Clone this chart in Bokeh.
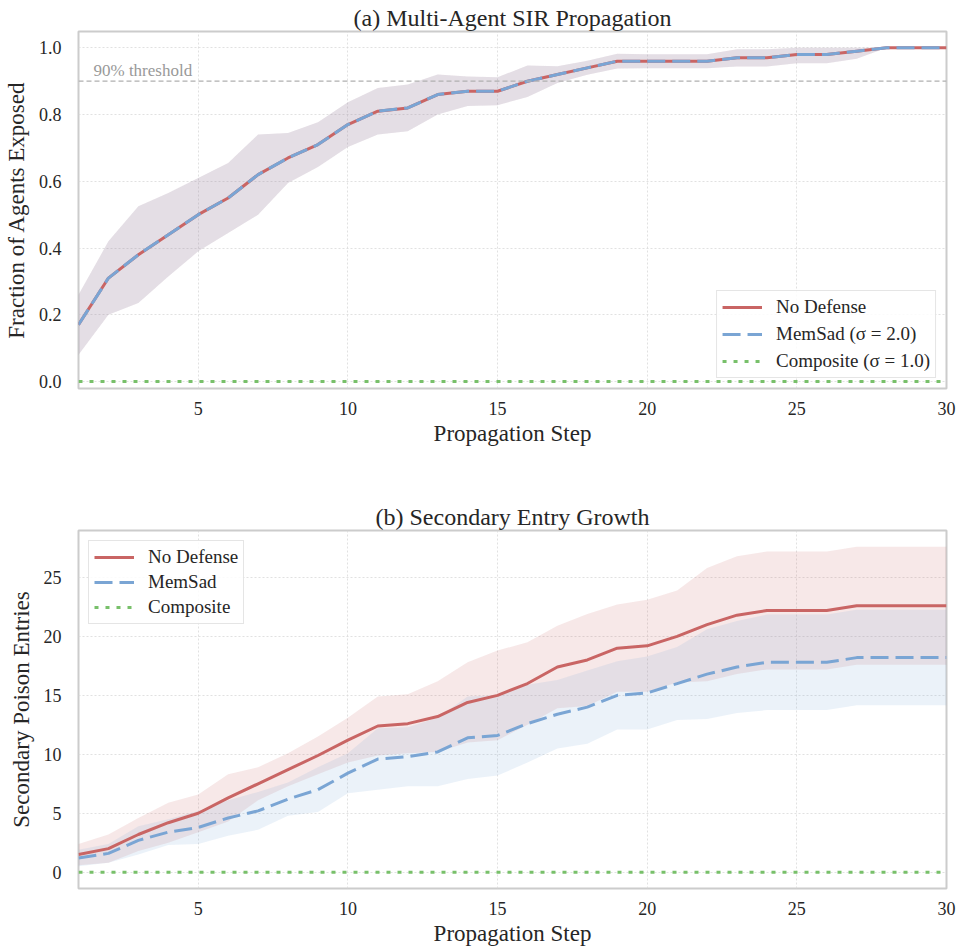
import numpy as np
from bokeh.plotting import figure
from bokeh.models import (Range1d, FixedTicker, PrintfTickFormatter, Legend,
                          LegendItem, Span, Label)
from bokeh.layouts import column
from bokeh.embed import file_html
from bokeh.resources import INLINE

# ---------------- data ----------------
steps = [1, 2, 3, 4, 5, 6, 7, 8, 9, 10, 11, 12, 13, 14, 15,
         16, 17, 18, 19, 20, 21, 22, 23, 24, 25, 26, 27, 28, 29, 30]

# (a) Multi-Agent SIR Propagation: fraction of agents exposed
sir_nodef_mean = [0.17, 0.31, 0.38, 0.44, 0.50, 0.55, 0.62, 0.67, 0.71, 0.77,
                  0.81, 0.82, 0.86, 0.87, 0.87, 0.90, 0.92, 0.94, 0.96, 0.96,
                  0.96, 0.96, 0.97, 0.97, 0.98, 0.98, 0.99, 1.00, 1.00, 1.00]
sir_nodef_std = [0.09, 0.11, 0.145, 0.125, 0.11, 0.105, 0.12, 0.075, 0.067, 0.067,
                 0.07, 0.07, 0.06, 0.044, 0.042, 0.047, 0.025, 0.021, 0.022, 0.021,
                 0.021, 0.021, 0.026, 0.026, 0.026, 0.026, 0.023, 0.0, 0.0, 0.0]
sir_memsad_mean = [0.17, 0.31, 0.38, 0.44, 0.50, 0.55, 0.62, 0.67, 0.71, 0.77,
                   0.81, 0.82, 0.86, 0.87, 0.87, 0.90, 0.92, 0.94, 0.96, 0.96,
                   0.96, 0.96, 0.97, 0.97, 0.98, 0.98, 0.99, 1.00, 1.00, 1.00]
sir_memsad_std = [0.09, 0.11, 0.145, 0.125, 0.11, 0.105, 0.12, 0.075, 0.067, 0.067,
                  0.07, 0.07, 0.06, 0.044, 0.042, 0.047, 0.025, 0.021, 0.022, 0.021,
                  0.021, 0.021, 0.026, 0.026, 0.026, 0.026, 0.023, 0.0, 0.0, 0.0]
sir_comp_mean = [0.0] * 30
sir_comp_std = [0.0] * 30
threshold = 0.9

# (b) Secondary Entry Growth: secondary poison entries
sec_nodef_mean = [1.5, 2.0, 3.2, 4.2, 5.0, 6.3, 7.5, 8.7, 9.9, 11.2,
                  12.4, 12.6, 13.2, 14.4, 15.0, 16.0, 17.4, 18.0, 19.0, 19.2,
                  20.0, 21.0, 21.8, 22.2, 22.2, 22.2, 22.6, 22.6, 22.6, 22.6]
sec_nodef_std = [0.9, 1.2, 1.4, 1.7, 1.6, 2.0, 1.4, 1.4, 1.6, 1.9,
                 2.5, 2.5, 3.0, 3.4, 3.8, 3.5, 3.5, 3.9, 3.7, 3.9,
                 3.9, 4.8, 5.0, 5.0, 5.0, 5.0, 5.0, 5.0, 5.0, 5.0]
sec_memsad_mean = [1.2, 1.6, 2.7, 3.4, 3.8, 4.6, 5.2, 6.2, 7.0, 8.4,
                   9.6, 9.8, 10.2, 11.4, 11.6, 12.6, 13.4, 14.0, 15.0, 15.2,
                   16.0, 16.8, 17.4, 17.8, 17.8, 17.8, 18.2, 18.2, 18.2, 18.2]
sec_memsad_std = [0.7, 0.8, 1.2, 1.1, 1.4, 1.5, 1.6, 1.4, 1.9, 1.7,
                  2.6, 2.5, 2.9, 3.5, 3.4, 3.3, 2.9, 3.1, 2.9, 3.1,
                  3.1, 3.8, 3.9, 4.05, 4.05, 4.05, 4.05, 4.05, 4.05, 4.05]
sec_comp_mean = [0.0] * 30
sec_comp_std = [0.0] * 30

x_ticks = [5, 10, 15, 20, 25, 30]
sir_y_ticks = [0.0, 0.2, 0.4, 0.6, 0.8, 1.0]
sec_y_ticks = [0, 5, 10, 15, 20, 25]

# ---------------- style ----------------
FONT = "Liberation Serif"
RED = "#c96564"
BLUE = "#7aa5d4"
GREEN = "#78c06a"
TXT = "#262626"


def base_figure(title, ylabel, y_range, top, fh, bottom):
    p = figure(output_backend="svg", toolbar_location=None,
               frame_width=868, frame_height=fh,
               min_border_left=78, min_border_right=12,
               min_border_top=top, min_border_bottom=bottom,
               x_range=Range1d(1, 30), y_range=Range1d(*y_range),
               title=title)
    p.background_fill_color = "white"
    p.border_fill_color = "white"
    p.outline_line_color = "#cccccc"
    p.outline_line_width = 2
    p.title.align = "center"
    p.title.text_font = FONT
    p.title.text_font_size = "24px"
    p.title.text_font_style = "normal"
    p.title.text_color = TXT
    p.title.standoff = 2
    for ax in (p.xaxis[0], p.yaxis[0]):
        ax.axis_line_color = None
        ax.major_tick_line_color = None
        ax.minor_tick_line_color = None
        ax.major_tick_out = 0
        ax.major_label_text_font = FONT
        ax.major_label_text_font_size = "18px"
        ax.major_label_text_color = TXT
        ax.axis_label_text_font = FONT
        ax.axis_label_text_font_size = "23px"
        ax.axis_label_text_font_style = "normal"
        ax.axis_label_text_color = TXT
    p.xaxis.axis_label = "Propagation Step"
    p.yaxis.axis_label = ylabel
    p.xaxis.ticker = FixedTicker(ticks=x_ticks)
    p.xaxis.major_label_standoff = 13
    p.xaxis.axis_label_standoff = 3
    p.yaxis.major_label_standoff = 17
    p.yaxis.axis_label_standoff = 7
    for g in (p.xgrid[0], p.ygrid[0]):
        g.grid_line_color = "#d9d9d9"
        g.grid_line_dash = "2 2"
        g.grid_line_width = 0.8
    return p


def draw_series(p, means, stds, clip=None):
    specs = [(RED, "solid"), (BLUE, "18 7"), (GREEN, "4 7")]
    for (col, _), m, s in zip(specs, means, stds):
        m = np.array(m)
        s = np.array(s)
        lo, hi = m - s, m + s
        if clip is not None:
            lo, hi = np.clip(lo, *clip), np.clip(hi, *clip)
        p.varea(x=steps, y1=lo, y2=hi, fill_color=col, fill_alpha=0.15)
    rs = []
    for (col, dash), m in zip(specs, means):
        rs.append(p.line(steps, m, line_color=col, line_width=3, line_dash=dash))
    return rs


def add_legend(p, rs, labels, loc, spacing, padding):
    leg = Legend(items=[LegendItem(label=l, renderers=[r]) for l, r in zip(labels, rs)],
                 location=loc)
    leg.label_text_font = FONT
    leg.label_text_font_size = "19px"
    leg.label_text_color = TXT
    leg.glyph_width = 40
    leg.glyph_height = 20
    leg.label_height = 20
    leg.label_standoff = 14
    leg.spacing = spacing
    leg.padding = padding
    leg.margin = 10
    leg.border_line_color = "#cccccc"
    leg.border_line_width = 1.5
    leg.background_fill_alpha = 0.85
    p.add_layout(leg)


# (a)
p1 = base_figure("(a) Multi-Agent SIR Propagation", "Fraction of Agents Exposed",
                 (-0.021, 1.049), 31, 357, 92)
p1.yaxis.ticker = FixedTicker(ticks=sir_y_ticks)
p1.yaxis.formatter = PrintfTickFormatter(format="%.1f")
p1.add_layout(Span(location=threshold, dimension="width", line_color="#b0b0b0",
                   line_dash="5 3", line_width=1.3))
p1.add_layout(Label(x=1.5, y=0.905, text="90% threshold", text_font=FONT,
                    text_font_size="17px", text_color="#999999"))
r1 = draw_series(p1, [sir_nodef_mean, sir_memsad_mean, sir_comp_mean],
                 [sir_nodef_std, sir_memsad_std, sir_comp_std], clip=(0, 1))
add_legend(p1, r1, ["No Defense", "MemSad (σ = 2.0)", "Composite (σ = 1.0)"],
           "bottom_right", 5, 5)

# (b)
p2 = base_figure("(b) Secondary Entry Growth", "Secondary Poison Entries",
                 (-1.38, 28.98), 50, 358, 63)
p2.yaxis.ticker = FixedTicker(ticks=sec_y_ticks)
r2 = draw_series(p2, [sec_nodef_mean, sec_memsad_mean, sec_comp_mean],
                 [sec_nodef_std, sec_memsad_std, sec_comp_std])
add_legend(p2, r2, ["No Defense", "MemSad", "Composite"], "top_left", 3, 5)

layout = column(p1, p2, spacing=0)
open("out.html", "w").write(file_html(layout, INLINE))
